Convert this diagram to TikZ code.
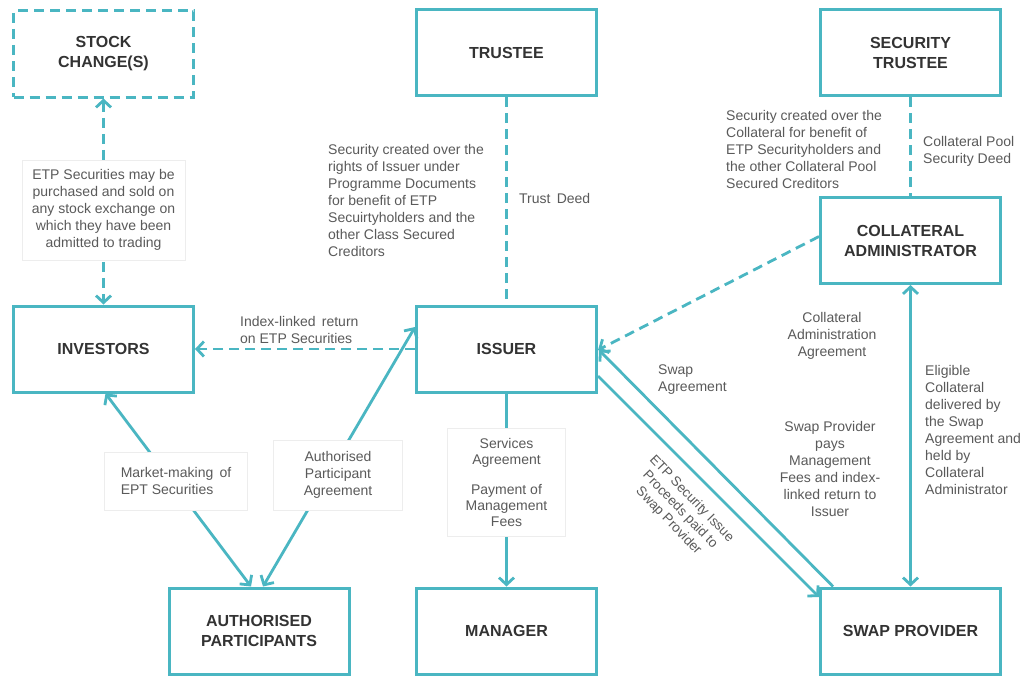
\documentclass[tikz,border=0pt]{standalone}
\usepackage{fontspec}
\setmainfont{Liberation Sans}
\usetikzlibrary{arrows.meta}
\definecolor{lineC}{RGB}{74,182,194}
\definecolor{boxtxt}{RGB}{51,51,51}
\definecolor{lbltxt}{RGB}{90,90,90}
\tikzset{
  box/.style={draw=lineC, line width=3pt, fill=white, minimum width=180pt, minimum height=86pt,
    inner sep=0pt, align=center, text=boxtxt, font=\fontsize{16}{20}\selectfont\bfseries},
  lbl/.style={text=lbltxt, font=\fontsize{14}{17}\selectfont, inner sep=2pt},
  lblbox/.style={lbl, fill=white, draw=black!7, line width=0.6pt},
  conn/.style={draw=lineC, line width=2.8pt},
  dsh/.style={dash pattern=on 10pt off 6pt},
  tip/.tip={Straight Barb[length=7pt,width=15pt]}
}
\begin{document}
\begin{tikzpicture}[x=1pt,y=-1pt]
\useasboundingbox[fill=white] (0,0) rectangle (1024,677);
% boxes
\node[box, dashed, dash pattern=on 10pt off 6pt] (stock) at (103.5,54) {STOCK\\CHANGE(S)};
\node[box] (trustee) at (506.5,52.5) {TRUSTEE};
\node[box] (sectr) at (910.5,52.5) {SECURITY\\TRUSTEE};
\node[box] (coll) at (910.5,240.5) {COLLATERAL\\ADMINISTRATOR};
\node[box] (inv) at (103.5,349) {INVESTORS};
\node[box] (iss) at (506.5,349) {ISSUER};
\node[box] (ap) at (259,631) {AUTHORISED\\PARTICIPANTS};
\node[box] (man) at (506.5,631) {MANAGER};
\node[box] (swap) at (910.5,631) {SWAP PROVIDER};
% connectors
\draw[conn,dsh,tip-tip] (stock.south) -- (inv.north);
\draw[conn,dsh] (trustee.south) -- (iss.north);
\draw[conn,dsh] (sectr.south) -- (coll.north);
\draw[conn,dsh,-tip] ([yshift=4pt]coll.west) -- ([yshift=-1pt]iss.east);
\draw[conn,dsh,-tip] (iss.west) -- (inv.east);
\coordinate (apL) at ([xshift=-8pt]ap.north);
\coordinate (apR) at ([xshift=4pt]ap.north);
\draw[conn,tip-tip] ([xshift=2pt]inv.south) -- (apL);
\draw[conn,tip-tip] (apR) -- ([yshift=22pt]iss.west);
\draw[conn,-tip] (iss.south) -- (man.north);
\draw[conn,-tip] ([xshift=14pt]swap.north west) -- ([xshift=1pt,yshift=-1pt]iss.east);
\draw[conn,-tip] ([yshift=-27pt]iss.east) -- ([yshift=34pt]swap.west);
\draw[conn,tip-tip] (coll.south) -- (swap.north);
% labels
\node[lblbox, align=center, minimum width=163pt, minimum height=100pt] (l1) at (103.5,210)
  {ETP Securities may be\\purchased and sold on\\any stock exchange on\\which they have been\\admitted to trading};
\node[lbl, align=left, anchor=west] (l2) at (326,200)
  {Security created over the\\rights of Issuer under\\Programme Documents\\for benefit of ETP\\Secuirtyholders and the\\other Class Secured\\Creditors};
\node[lbl, anchor=west] (l3) at (517,198) {Trust\, Deed};
\node[lbl, align=left, anchor=west] (l4) at (724,149)
  {Security created over the\\Collateral for benefit of\\ETP Securityholders and\\the other Collateral Pool\\Secured Creditors};
\node[lbl, align=left, anchor=west] (l5) at (921,151) {Collateral Pool\\Security Deed};
\node[lbl, align=left, anchor=west] (l6) at (238,330) {Index-linked\, return\\on ETP Securities};
\node[lblbox, align=left, minimum width=143pt, minimum height=58pt] (l7) at (176,481)
  {Market-making\, of\\EPT Securities};
\node[lblbox, align=center, minimum width=129pt, minimum height=70pt] (l8) at (338,475)
  {Authorised\\Participant\\Agreement};
\node[lblbox, align=center, minimum width=118pt, minimum height=108pt, font=\fontsize{14}{16}\selectfont] (l9) at (506.5,482)
  {Services\\Agreement\\[14pt]Payment of\\Management\\Fees};
\node[lbl, align=left, anchor=west] (l10) at (656,380) {Swap\\Agreement};
\node[lbl, align=center, rotate=-46, font=\fontsize{13.5}{16}\selectfont] (l11) at (680,510)
  {ETP Security Issue\\Proceeds paid to\\Swap Provider};
\node[lbl, align=center] (l12) at (832,336) {Collateral\\Administration\\Agreement};
\node[lbl, align=center] (l13) at (830,469)
  {Swap Provider\\pays\\Management\\Fees and index-\\linked return to\\Issuer};
\node[lbl, align=left, anchor=west] (l14) at (923,430)
  {Eligible\\Collateral\\delivered by\\the Swap\\Agreement and\\held by\\Collateral\\Administrator};
\end{tikzpicture}
\end{document}
